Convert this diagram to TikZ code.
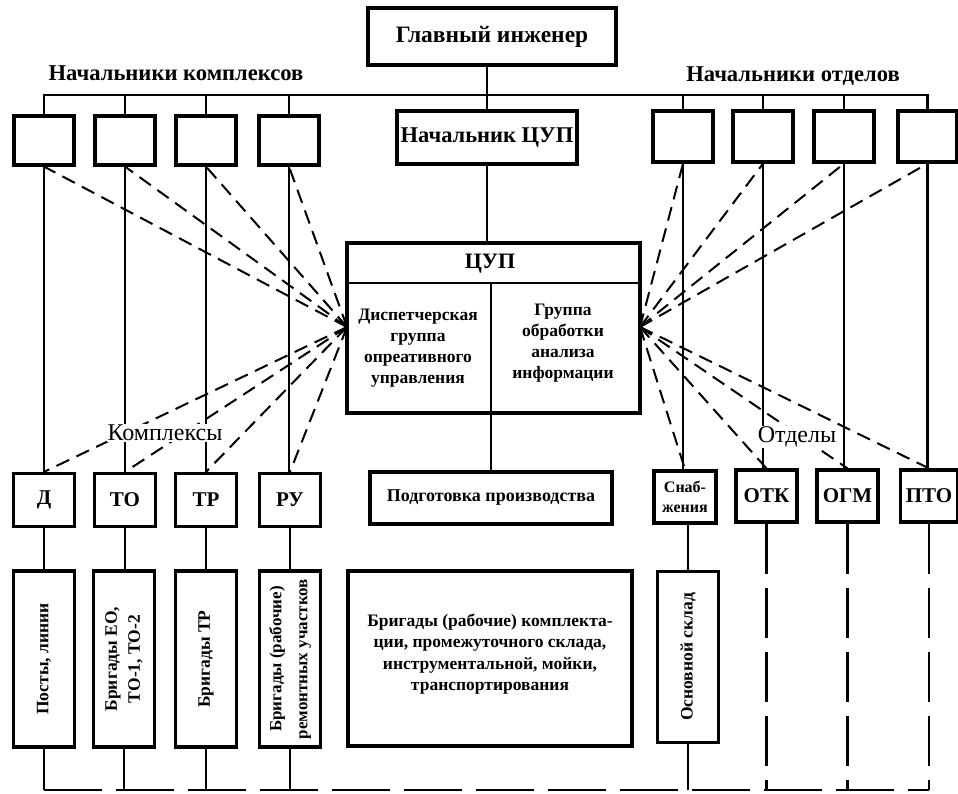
\documentclass[tikz,border=0pt]{standalone}
\usepackage{fontspec}
\setmainfont{Liberation Serif}
\usetikzlibrary{calc}
\begin{document}
\begin{tikzpicture}[x=1pt,y=-1pt,
  box/.style={draw, line width=3.2pt, inner sep=0pt, align=center, fill=white},
  conn/.style={line width=2.2pt},
  dline/.style={line width=2pt, dash pattern=on 14pt off 8pt},
  bline/.style={line width=2.4pt, dash pattern=on 58pt off 14pt},
  vline/.style={line width=2.4pt, dash pattern=on 50pt off 14pt},
  big/.style={font=\fontsize{21}{24}\selectfont\bfseries},
  small/.style={font=\fontsize{17.5}{21}\selectfont\bfseries, align=center},
  lbl/.style={font=\fontsize{24}{26}\selectfont, fill=white, inner sep=1pt}]
\useasboundingbox (0,0) rectangle (958,794);
% top
\node[box, font=\fontsize{23.5}{26}\selectfont\bfseries, minimum width=248pt, minimum height=57pt] (gi) at (492,36.5) {Главный инженер};
\node[font=\fontsize{22.6}{26}\selectfont\bfseries] (nk) at (176,73) {Начальники комплексов};
\node[font=\fontsize{22.6}{26}\selectfont\bfseries] (no) at (793,76) {Начальники отделов};
\coordinate (tb) at (0,95);
\node[box, minimum width=60pt, minimum height=49pt] (L1) at (44,140.5) {};
\node[box, minimum width=60pt, minimum height=49pt] (L2) at (125,140.5) {};
\node[box, minimum width=60pt, minimum height=49pt] (L3) at (206,140.5) {};
\node[box, minimum width=60pt, minimum height=49pt] (L4) at (289,140.5) {};
\node[box, font=\fontsize{22.5}{26}\selectfont\bfseries, minimum width=180pt, minimum height=53pt] (nc) at (487,137.5) {Начальник ЦУП};
\node[box, minimum width=60pt, minimum height=51pt] (R1) at (683,136.5) {};
\node[box, minimum width=60pt, minimum height=51pt] (R2) at (763,136.5) {};
\node[box, minimum width=60pt, minimum height=51pt] (R3) at (844,136.5) {};
\node[box, minimum width=59pt, minimum height=51pt] (R4) at (927.5,136.5) {};
% CUP
\node[box, minimum width=293pt, minimum height=170pt] (cup) at (493.5,328) {};
\coordinate (hl) at (347,283);
\coordinate (hr) at (640,283);
\coordinate (cm) at (491,283);
\node[font=\fontsize{22}{26}\selectfont\bfseries] (cuph) at (490,264) {ЦУП};
\node[small] (disp) at (418,348) {Диспетчерская\\группа\\опреативного\\управления};
\node[small] (grp) at (563,343) {Группа\\обработки\\анализа\\информации};
\coordinate (LP) at (347,327);
\coordinate (RP) at (640,327);
% bottom row
\node[box, big, minimum width=61pt, minimum height=53pt] (D) at (44,500) {Д};
\node[box, big, minimum width=61pt, minimum height=53pt] (TO) at (125,500) {ТО};
\node[box, big, minimum width=61pt, minimum height=53pt] (TR) at (206,500) {ТР};
\node[box, big, minimum width=61pt, minimum height=53pt] (RU) at (290,500) {РУ};
\node[box, minimum width=242pt, minimum height=52pt, font=\fontsize{18}{20}\selectfont\bfseries] (podg) at (491,498) {Подготовка производства};
\node[box, minimum width=62pt, minimum height=52pt, font=\fontsize{16}{20}\selectfont\bfseries] (snab) at (685,497) {Снаб-\\жения};
\node[box, big, minimum width=61pt, minimum height=52pt] (otk) at (766.5,496) {ОТК};
\node[box, big, minimum width=61pt, minimum height=52pt] (ogm) at (847.5,496) {ОГМ};
\node[box, big, minimum width=57pt, minimum height=52pt] (pto) at (929,496) {ПТО};
% tall boxes
\node[box, minimum width=61pt, minimum height=176pt] (posty) at (44,659) {};
\node[box, minimum width=61pt, minimum height=176pt] (bto) at (124,659) {};
\node[box, minimum width=61pt, minimum height=176pt] (btr) at (206,659) {};
\node[box, minimum width=61pt, minimum height=176pt] (bru) at (290,659) {};
\node[box, minimum width=284pt, minimum height=175pt] (bbig) at (490,658.5) {};
\node[box, minimum width=61pt, minimum height=171pt] (osn) at (688,657) {};
\coordinate (bus) at (0,790);
% connectors top
\draw[conn] (L1.north) -- (L1.north |- tb) -- (R4.north |- tb) -- (R4.north);
\foreach \n in {L2,L3,L4,R1,R2,R3} \draw[conn] (\n.north) -- (\n.north |- tb);
\draw[conn] (nc.north) -- (nc.north |- gi.south);
\draw[conn] (nc.south) -- (nc.south |- cup.north);
\draw[line width=2.8pt] (hl) -- (hr);
\draw[line width=2.6pt] (cm) -- (cm |- cup.south);
\draw[conn] (podg.north) -- (podg.north |- cup.south);
% verticals
\draw[conn] (L1.south) -- (D.north);
\draw[conn] (L2.south) -- (TO.north);
\draw[conn] (L3.south) -- (TR.north);
\draw[conn] (L4.south) -- (L4.south |- RU.north);
\draw[conn] (R1.south) -- (R1.south |- snab.north);
\draw[conn] (R2.south) -- (R2.south |- otk.north);
\draw[conn] (R3.south) -- (R3.south |- ogm.north);
\draw[conn] (R4.south) -- (R4.south |- pto.north);
\draw[conn] (D.south) -- (posty.north);
\draw[conn] (TO.south) -- (TO.south |- bto.north);
\draw[conn] (TR.south) -- (btr.north);
\draw[conn] (RU.south) -- (bru.north);
\draw[conn] (osn.north) -- (osn.north |- snab.south);
\foreach \n in {posty,bto,btr,bru,osn} \draw[conn] (\n.south) -- (\n.south |- bus);
\foreach \n in {otk,ogm,pto} \draw[vline] (\n.south) -- (\n.south |- bus);
\draw[bline] (posty.south |- bus) -- (pto.south |- bus);
% dashed fans
\foreach \n in {L1,L2,L3,L4} \draw[dline] (LP) -- (\n.south);
\foreach \n in {D,TO,TR,RU} \draw[dline] (LP) -- (\n.north);
\foreach \n in {R1,R2,R3,R4} \draw[dline] (RP) -- (\n.south);
\foreach \n in {snab,otk,ogm,pto} \draw[dline] (RP) -- (\n.north);
% labels
\node[lbl] (kompl) at (165,433) {Комплексы};
\node[lbl] (otd) at (797,437) {Отделы};
% rotated texts
\node[small, rotate=90] (tp) at (posty.center) {Посты, линии};
\node[small, rotate=90, font=\fontsize{17.5}{23}\selectfont\bfseries] (tb2) at (bto.center) {Бригады ЕО,\\ТО-1, ТО-2};
\node[small, rotate=90] (tt) at (btr.center) {Бригады ТР};
\node[small, rotate=90, font=\fontsize{17}{26}\selectfont\bfseries] (tr) at (bru.center) {Бригады (рабочие)\\ремонтных участков};
\node[small, rotate=90] (to) at (osn.center) {Основной склад};
\node[font=\fontsize{17.5}{21.5}\selectfont\bfseries, align=center] (tbig) at (490,654) {Бригады (рабочие) комплекта-\\ции, промежуточного склада,\\инструментальной, мойки,\\транспортирования};
\end{tikzpicture}
\end{document}
